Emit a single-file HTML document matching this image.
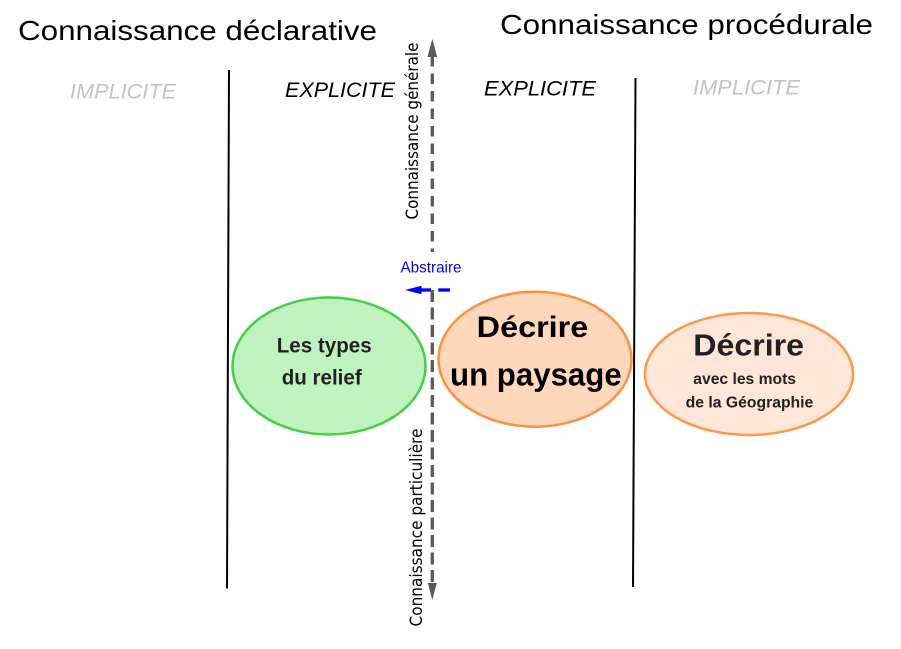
<!DOCTYPE html>
<html>
<head>
<meta charset="utf-8">
<style>
html,body{margin:0;padding:0;background:#fff;}
svg{display:block;}
</style>
</head>
<body>
<svg width="901" height="649" viewBox="0 0 901 649" xmlns="http://www.w3.org/2000/svg">
  <rect width="901" height="649" fill="#fff"/>

  <!-- Titles -->
  <text x="18" y="40" font-family="Liberation Sans, Arial, sans-serif" font-size="28" fill="#000" textLength="359" lengthAdjust="spacingAndGlyphs">Connaissance déclarative</text>
  <text x="500" y="34" font-family="Liberation Sans, Arial, sans-serif" font-size="28" fill="#000" textLength="373" lengthAdjust="spacingAndGlyphs">Connaissance procédurale</text>

  <!-- IMPLICITE / EXPLICITE -->
  <text x="70" y="98.5" font-family="Liberation Sans, Arial, sans-serif" font-size="21" font-style="italic" fill="#c3c3c3" textLength="106" lengthAdjust="spacingAndGlyphs">IMPLICITE</text>
  <text x="285" y="97" font-family="Liberation Sans, Arial, sans-serif" font-size="21" font-style="italic" fill="#000" textLength="110" lengthAdjust="spacingAndGlyphs">EXPLICITE</text>
  <text x="484" y="95.5" font-family="Liberation Sans, Arial, sans-serif" font-size="21" font-style="italic" fill="#000" textLength="112" lengthAdjust="spacingAndGlyphs">EXPLICITE</text>
  <text x="693" y="94.5" font-family="Liberation Sans, Arial, sans-serif" font-size="21" font-style="italic" fill="#c3c3c3" textLength="107" lengthAdjust="spacingAndGlyphs">IMPLICITE</text>

  <!-- Vertical separators -->
  <line x1="229" y1="70" x2="227" y2="588.5" stroke="#000" stroke-width="2"/>
  <line x1="635.5" y1="78" x2="633" y2="587" stroke="#000" stroke-width="2"/>

  <!-- Gray dashed vertical arrow -->
  <line x1="432.3" y1="56" x2="432.3" y2="252" stroke="#5a5a5a" stroke-width="3.3" stroke-dasharray="10.5 7"/>
  <polygon points="432.3,39 427.5,57 437.2,57" fill="#5a5a5a"/>
  <line x1="432.3" y1="290" x2="432.3" y2="584" stroke="#5a5a5a" stroke-width="3.3" stroke-dasharray="12 5.5"/>
  <polygon points="432.3,600 427.8,583 436.8,583" fill="#5a5a5a"/>

  <!-- Rotated labels -->
  <text transform="translate(418,219.5) rotate(-90)" font-family="DejaVu Sans, sans-serif" font-size="17" fill="#000" textLength="177" lengthAdjust="spacingAndGlyphs">Connaissance générale</text>
  <text transform="translate(422,626.5) rotate(-90)" font-family="DejaVu Sans, sans-serif" font-size="17" fill="#000" textLength="198" lengthAdjust="spacingAndGlyphs">Connaissance particulière</text>

  <!-- Abstraire -->
  <text x="400.5" y="272.3" font-family="Liberation Sans, Arial, sans-serif" font-size="16" fill="#0000ff" textLength="61" lengthAdjust="spacingAndGlyphs">Abstraire</text>
  <line x1="438.3" y1="290" x2="450" y2="290" stroke="#0000ff" stroke-width="3.3"/>
  <line x1="418" y1="290" x2="431" y2="290" stroke="#0000ff" stroke-width="3.3"/>
  <polygon points="405,290 421.5,285.8 421.5,294.2" fill="#0000ff"/>
  <rect x="430.6" y="290" width="3.4" height="12" fill="#5a5a5a"/>

  <!-- Green ellipse -->
  <ellipse cx="329" cy="366" rx="96.5" ry="68.5" fill="#c0f2c0" stroke="#44d044" stroke-width="2.5"/>
  <text x="276.7" y="352.5" font-family="Liberation Sans, Arial, sans-serif" font-size="21" font-weight="bold" fill="#222" textLength="95" lengthAdjust="spacingAndGlyphs">Les types</text>
  <text x="281.7" y="384.5" font-family="Liberation Sans, Arial, sans-serif" font-size="21" font-weight="bold" fill="#222" textLength="80" lengthAdjust="spacingAndGlyphs">du relief</text>

  <!-- Orange middle ellipse -->
  <ellipse cx="535" cy="359.2" rx="96.5" ry="67.5" fill="#ffd8bc" stroke="#ff9040" stroke-width="2.5"/>
  <text x="476.7" y="337" font-family="Liberation Sans, Arial, sans-serif" font-size="30" font-weight="bold" fill="#000" textLength="111.6" lengthAdjust="spacingAndGlyphs">Décrire</text>
  <text x="450" y="385.5" font-family="Liberation Sans, Arial, sans-serif" font-size="32" font-weight="bold" fill="#000" textLength="171.7" lengthAdjust="spacingAndGlyphs">un paysage</text>

  <!-- Right ellipse -->
  <ellipse cx="749" cy="374" rx="104" ry="61" fill="#ffe6d8" stroke="#ff9848" stroke-width="2.5"/>
  <text x="693.3" y="355.5" font-family="Liberation Sans, Arial, sans-serif" font-size="31" font-weight="bold" fill="#222" textLength="110.7" lengthAdjust="spacingAndGlyphs">Décrire</text>
  <text x="693.3" y="384" font-family="Liberation Sans, Arial, sans-serif" font-size="15.5" font-weight="bold" fill="#222" textLength="102.7" lengthAdjust="spacingAndGlyphs">avec les mots</text>
  <text x="685.7" y="407.3" font-family="Liberation Sans, Arial, sans-serif" font-size="15.5" font-weight="bold" fill="#222" textLength="127.6" lengthAdjust="spacingAndGlyphs">de la Géographie</text>
</svg>
</body>
</html>
